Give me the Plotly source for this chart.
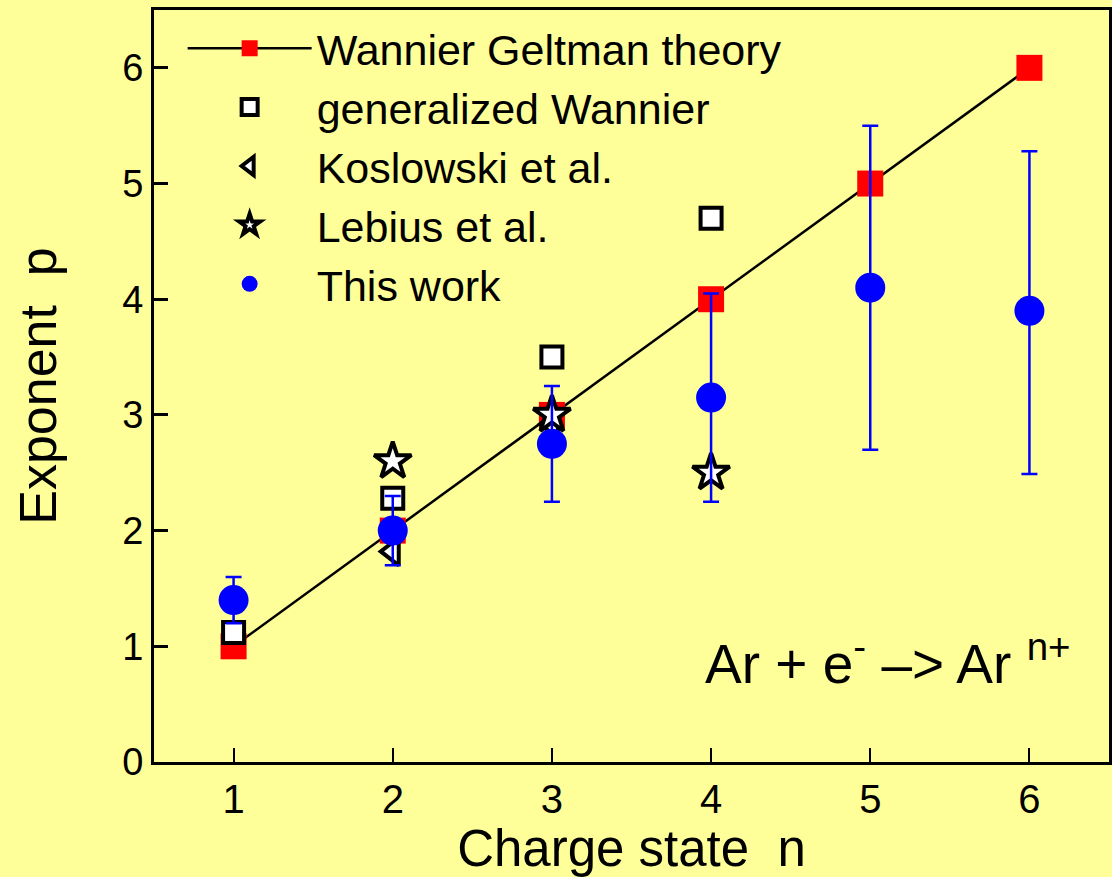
import plotly.graph_objects as go

# Data
n_theory = [1, 2, 3, 4, 5, 6]
p_theory = [1, 2, 3, 4, 5, 6]

n_genw = [1, 2, 3, 4]
p_genw = [1.12, 2.28, 3.50, 4.70]

n_kos = [2, 3]
p_kos = [1.82, 2.92]

n_leb = [2, 3, 4]
p_leb = [2.60, 3.00, 2.50]

n_this = [1, 2, 3, 4, 5, 6]
p_this = [1.40, 2.00, 2.75, 3.15, 4.10, 3.90]
err_up = [0.20, 0.30, 0.50, 0.90, 1.40, 1.38]
err_dn = [0.20, 0.30, 0.50, 0.90, 1.40, 1.41]

x_ticks = [1, 2, 3, 4, 5, 6]
y_ticks = [0, 1, 2, 3, 4, 5, 6]

BG = "#FFFF99"
FONT = "Liberation Sans, Arial, sans-serif"

fig = go.Figure()

fig.add_trace(go.Scatter(
    x=n_theory, y=p_theory, mode="lines+markers", name="Wannier Geltman theory",
    line=dict(color="black", width=2.5),
    marker=dict(symbol="square", size=26, color="red", line=dict(width=0)),
))
fig.add_trace(go.Scatter(
    x=n_genw, y=p_genw, mode="markers", name="generalized Wannier",
    marker=dict(symbol="square", size=21, color="white", line=dict(color="black", width=4)),
))
fig.add_trace(go.Scatter(
    x=n_kos, y=p_kos, mode="markers", name="Koslowski et al.",
    marker=dict(symbol="triangle-left", size=24, color="white", line=dict(color="black", width=4)),
))
fig.add_trace(go.Scatter(
    x=n_leb, y=p_leb, mode="markers", name="Lebius et al.",
    marker=dict(symbol="star", size=28, color="white", line=dict(color="black", width=4)),
))
fig.add_trace(go.Scatter(
    x=n_this, y=p_this, mode="markers", name="This work",
    marker=dict(symbol="circle", size=30, color="blue", line=dict(width=0)),
    error_y=dict(type="data", symmetric=False, array=err_up, arrayminus=err_dn,
                 color="blue", thickness=2.5, width=8),
))

fig.update_layout(
    width=1112, height=877,
    margin=dict(l=154, r=0, t=10, b=115),
    paper_bgcolor=BG, plot_bgcolor=BG,
    font=dict(family=FONT, color="black"),
    showlegend=True,
    legend=dict(
        x=0.03, y=0.995, xanchor="left", yanchor="top",
        bgcolor="rgba(0,0,0,0)", font=dict(size=43, family=FONT),
        itemwidth=124, tracegroupgap=0,
    ),
    xaxis=dict(
        range=[0.5, 6.5], tickvals=x_ticks, ticktext=[str(v) for v in x_ticks],
        ticks="inside", ticklen=14, tickwidth=2, tickcolor="black",
        showline=True, linewidth=3, linecolor="black", mirror=True,
        showgrid=False, zeroline=False,
        tickfont=dict(size=40, family=FONT),
        title=dict(text="Charge state  n", font=dict(size=51, family=FONT), standoff=4),
    ),
    yaxis=dict(
        range=[0, 6.5], tickvals=y_ticks, ticktext=[str(v) for v in y_ticks],
        ticks="inside", ticklen=14, tickwidth=2.5, tickcolor="black",
        showline=True, linewidth=3, linecolor="black", mirror=True,
        showgrid=False, zeroline=False,
        tickfont=dict(size=38, family=FONT),
        title=dict(text="Exponent  p", font=dict(size=52, family=FONT), standoff=50),
    ),
    annotations=[dict(
        text="Ar + e<sup>-</sup> –> Ar <sup>n+</sup>",
        xref="paper", yref="paper", x=0.962, y=0.135, xanchor="right", yanchor="middle",
        showarrow=False, font=dict(size=55, family=FONT, color="black"),
    )],
)

fig.write_html("out.html")
